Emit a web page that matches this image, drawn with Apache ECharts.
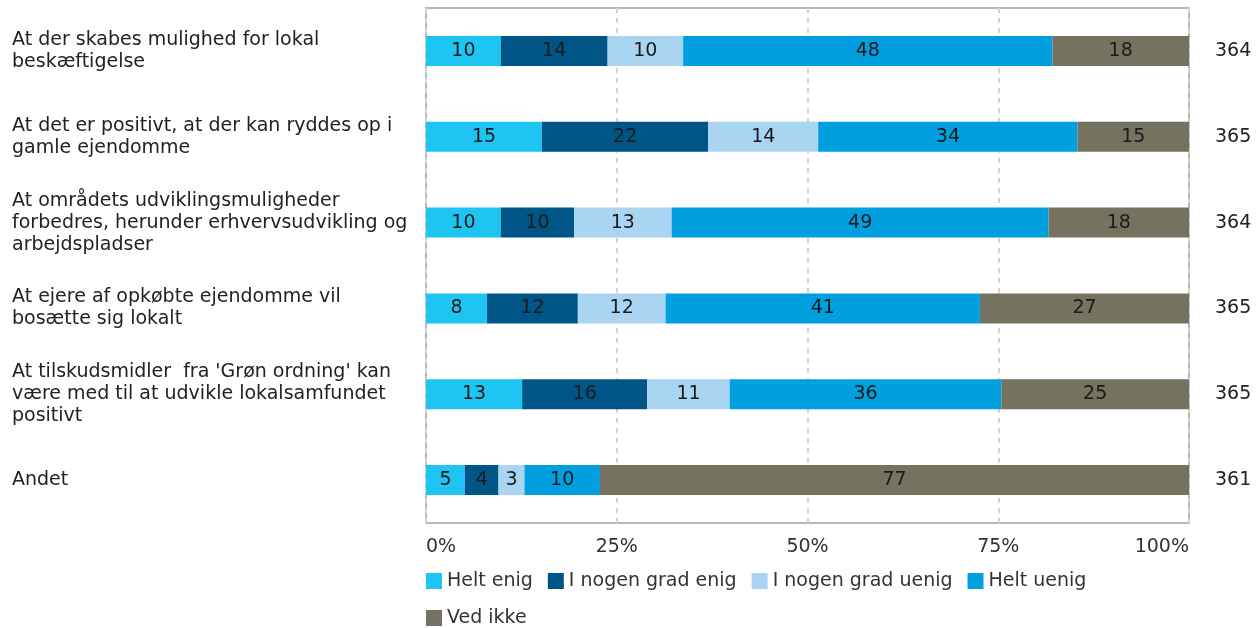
<!DOCTYPE html>
<html>
<head>
<meta charset="utf-8">
<script src="https://cdn.jsdelivr.net/npm/echarts@6/dist/echarts.min.js"></script>
<style>
html,body{margin:0;padding:0;background:#fff;}
#chart{width:1258px;height:628px;}
</style>
</head>
<body>
<div id="chart"></div>
<script>
const categories = [
  "At der skabes mulighed for lokal\nbeskæftigelse",
  "At det er positivt, at der kan ryddes op i\ngamle ejendomme",
  "At områdets udviklingsmuligheder\nforbedres, herunder erhvervsudvikling og\narbejdspladser",
  "At ejere af opkøbte ejendomme vil\nbosætte sig lokalt",
  "At tilskudsmidler  fra 'Grøn ordning' kan\nvære med til at udvikle lokalsamfundet\npositivt",
  "Andet"
];
const counts = ["364", "365", "364", "365", "365", "361"];
const seriesNames = ["Helt enig", "I nogen grad enig", "I nogen grad uenig", "Helt uenig", "Ved ikke"];
const heltEnig        = [9.8, 15.2, 9.8, 8.0, 12.6, 5.1];
const nogenGradEnig   = [14.0, 21.8, 9.6, 11.9, 16.4, 4.4];
const nogenGradUenig  = [9.9, 14.4, 12.8, 11.5, 10.8, 3.4];
const heltUenig       = [48.4, 34.0, 49.4, 41.2, 35.6, 9.9];
const vedIkke         = [17.9, 14.6, 18.4, 27.4, 24.6, 77.2];
const colors = ["#1ec4f2", "#005587", "#a9d5f3", "#009fe0", "#767260"];
const xTicks = [0, 25, 50, 75, 100];

const FONT = "Verdana, 'DejaVu Sans'";
const FS = 19;
const allData = [heltEnig, nogenGradEnig, nogenGradUenig, heltUenig, vedIkke];

const chart = echarts.init(document.getElementById('chart'), null, {renderer: 'canvas'});
chart.setOption({
  animation: false,
  backgroundColor: '#fff',
  textStyle: {fontFamily: FONT},
  grid: {
    left: 426, right: 69, top: 8, bottom: 105,
    show: true, borderColor: '#b8b8b8', borderWidth: 2, backgroundColor: 'transparent'
  },
  legend: {
    data: seriesNames,
    left: 421, top: 565, width: 700,
    itemWidth: 16, itemHeight: 16, itemGap: 15,
    icon: 'rect',
    textStyle: {fontFamily: FONT, fontSize: FS, color: '#333', lineHeight: 22}
  },
  xAxis: {
    type: 'value', min: xTicks[0], max: xTicks[xTicks.length - 1], interval: 25,
    axisLine: {show: false}, axisTick: {show: false},
    splitLine: {show: true, lineStyle: {color: '#d4d4d4', type: [5, 5], width: 2}},
    axisLabel: {
      formatter: '{value}%', fontFamily: FONT, fontSize: FS, color: '#333', margin: 15,
      alignMinLabel: 'left', alignMaxLabel: 'right'
    }
  },
  yAxis: [
    {
      type: 'category', data: categories, inverse: true,
      axisLine: {show: false}, axisTick: {show: false}, splitLine: {show: false},
      axisLabel: {align: 'left', margin: 414, fontFamily: FONT, fontSize: FS, color: '#222', lineHeight: 22, padding: [10, 0, 0, 0]}
    },
    {
      type: 'category', data: counts, inverse: true, position: 'right',
      axisLine: {show: false}, axisTick: {show: false}, splitLine: {show: false},
      axisLabel: {align: 'left', margin: 26, fontFamily: FONT, fontSize: FS, color: '#222', padding: [2, 0, 0, 0]}
    }
  ],
  series: seriesNames.map((name, i) => ({
    name: name, type: 'bar', stack: 'total', barWidth: 30,
    data: allData[i],
    itemStyle: {color: colors[i]},
    label: {
      show: true, position: 'inside', fontFamily: FONT, fontSize: FS, color: '#1a1a1a',
      formatter: p => Math.round(p.value)
    }
  }))
});
</script>
</body>
</html>
